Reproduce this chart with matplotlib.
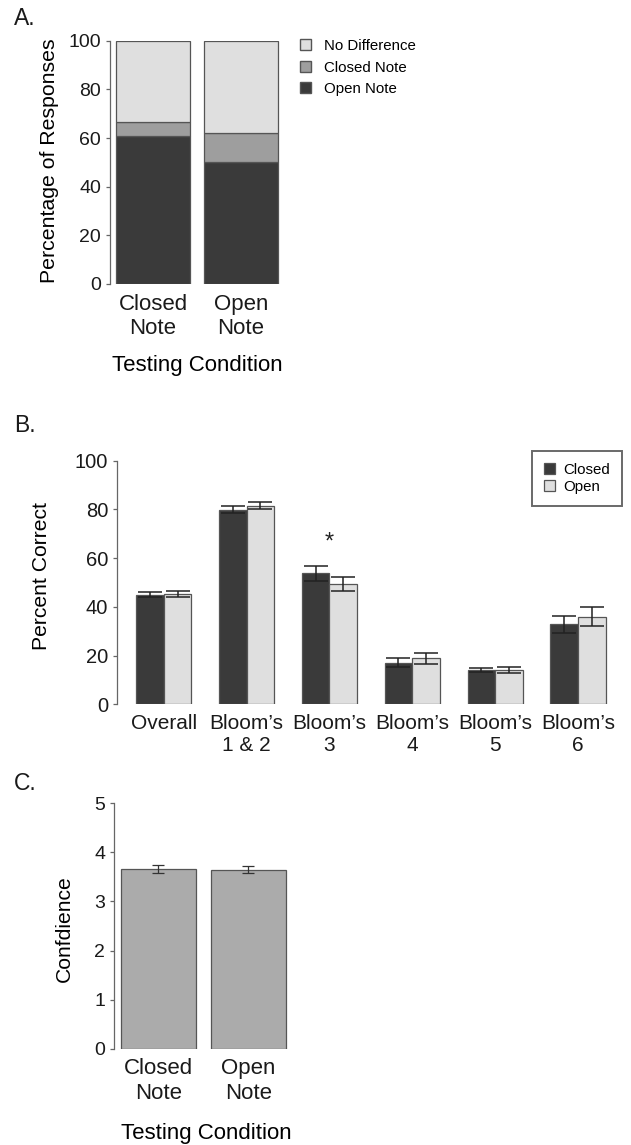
import matplotlib
matplotlib.use("Agg")
import matplotlib.pyplot as plt
from matplotlib.patches import Patch
import numpy as np

plt.rcParams['font.family'] = ['Liberation Sans', 'DejaVu Sans']

# panel A: preferred testing condition (stacked percentages)
conditions = ["Closed\nNote", "Open\nNote"]
pref_open = [60.8, 50.2]
pref_closed = [5.9, 12.0]
pref_nodiff = [33.3, 37.8]

# panel B: percent correct by Bloom's level
blooms = ["Overall", "Bloom’s\n1 & 2", "Bloom’s\n3", "Bloom’s\n4", "Bloom’s\n5", "Bloom’s\n6"]
closed_pc = [45.0, 79.9, 53.8, 17.1, 14.1, 32.8]
closed_se = [1.1, 1.5, 3.1, 1.9, 1.0, 3.6]
open_pc = [45.4, 81.5, 49.4, 18.9, 14.1, 36.0]
open_se = [1.2, 1.4, 2.9, 2.3, 1.2, 3.8]
sig_groups = [2]

# panel C: confidence
confidence = [3.667, 3.647]
confidence_se = [0.078, 0.075]

W, H = 631, 1145
fig = plt.figure(figsize=(W / 100, H / 100), dpi=100)


def px_axes(left, top, right, bottom):
    return fig.add_axes([left / W, 1 - bottom / H, (right - left) / W, (bottom - top) / H])


def style(ax, ysize=14, xsize=16):
    for s in ['top', 'right', 'bottom']:
        ax.spines[s].set_visible(False)
    ax.spines['left'].set_color('#666666')
    ax.spines['left'].set_linewidth(0.9)
    ax.tick_params(axis='y', length=3, width=0.9, color='#666666', pad=3.5,
                   labelsize=ysize, labelcolor='#1a1a1a')
    ax.tick_params(axis='x', length=0, pad=7, labelsize=xsize, labelcolor='#1a1a1a')


DARK, MID, LIGHT, EDGE = '#3a3a3a', '#9e9e9e', '#dfdfdf', '#555555'

# ---------- A ----------
axA = px_axes(110, 40.7, 284, 284)
xa = np.arange(len(conditions)) * 1.2 + 0.7
axA.bar(xa, pref_open, width=1, color=DARK, edgecolor=EDGE, linewidth=0.9)
axA.bar(xa, pref_closed, width=1, bottom=pref_open, color=MID, edgecolor=EDGE, linewidth=0.9)
axA.bar(xa, pref_nodiff, width=1, bottom=np.add(pref_open, pref_closed),
        color=LIGHT, edgecolor=EDGE, linewidth=0.9)
axA.set_xlim(0.112, 2.488)
axA.set_ylim(0, 100)
axA.set_yticks([0, 20, 40, 60, 80, 100])
axA.set_xticks(xa, conditions)
style(axA)
axA.set_ylabel("Percentage of Responses", fontsize=15.3, va='center')
axA.yaxis.set_label_coords((49 - 110) / 174, 0.5 + (162.3 - 160.8) / 243.3)
axA.set_xlabel("Testing Condition", fontsize=16, va='center')
axA.xaxis.set_label_coords(0.5, -(366 - 284) / 243.3)
handles = [Patch(facecolor=LIGHT, edgecolor=EDGE), Patch(facecolor=MID, edgecolor=EDGE),
           Patch(facecolor=DARK, edgecolor=EDGE)]
fig.legend(handles, ["No Difference", "Closed Note", "Open Note"], loc='center left',
           bbox_to_anchor=(300 / W, 1 - 67.7 / H), frameon=False, fontsize=10.8,
           handlelength=0.75, handleheight=0.75, handletextpad=0.85, labelspacing=0.5,
           borderpad=0, borderaxespad=0)

# ---------- B ----------
axB = px_axes(117.3, 460.7, 624.4, 704.3)
xc = np.arange(len(blooms)) * 3 + 1.5
xo = xc + 1
ekw = dict(ecolor='#222222', elinewidth=1.1, capsize=8.5, capthick=1.1)
axB.bar(xc, closed_pc, width=1, color=DARK, edgecolor=EDGE, linewidth=0.9,
        yerr=closed_se, error_kw=ekw, label="Closed")
axB.bar(xo, open_pc, width=1, color=LIGHT, edgecolor=EDGE, linewidth=0.9,
        yerr=open_se, error_kw=ekw, label="Open")
for g in sig_groups:
    top = max(closed_pc[g] + closed_se[g], open_pc[g] + open_se[g])
    axB.text(xc[g] + 0.5, top + 5, "*", ha='center', va='bottom', fontsize=17, color='#222222')
axB.set_xlim(0.32, 18.68)
axB.set_ylim(0, 100)
axB.set_yticks([0, 20, 40, 60, 80, 100])
axB.set_xticks(xc + 0.5, blooms)
style(axB, ysize=14.5, xsize=15)
axB.set_ylabel("Percent Correct", fontsize=15.2, va='center')
axB.yaxis.set_label_coords((41.7 - 117.3) / 507.1, 1 - (576.5 - 460.7) / 243.6)
leg = axB.legend(loc='upper right', bbox_to_anchor=(621.7 / W, 1 - 451 / H),
                 bbox_transform=fig.transFigure, fontsize=10.8, fancybox=False,
                 handlelength=0.75, handleheight=0.75, handletextpad=0.5,
                 labelspacing=0.2, borderpad=0.8, borderaxespad=0)
leg.get_frame().set_edgecolor('#444444')
leg.get_frame().set_linewidth(1.4)

# ---------- C ----------
axC = px_axes(114.3, 803.3, 292.3, 1048.7)
axC.bar(xa, confidence, width=1, color='#ababab', edgecolor=EDGE, linewidth=0.9,
        yerr=confidence_se, error_kw=dict(ecolor='#333333', elinewidth=0.9, capsize=4.5, capthick=0.9))
axC.set_xlim(0.112, 2.488)
axC.set_ylim(0, 5)
axC.set_yticks([0, 1, 2, 3, 4, 5])
axC.set_xticks(xa, conditions)
style(axC, ysize=14, xsize=16)
axC.set_ylabel("Confdience", fontsize=15.2, va='center')
axC.yaxis.set_label_coords((64 - 114.3) / 178, 1 - (928.3 - 803.3) / 245.4)
axC.set_xlabel("Testing Condition", fontsize=16, va='center')
axC.xaxis.set_label_coords(0.5 + (206.4 - 203.3) / 178, -(1133.3 - 1048.7) / 245.4)

# panel letters
for letter, y in [("A.", 18.3), ("B.", 426), ("C.", 784)]:
    fig.text(14 / W, 1 - y / H, letter, fontsize=16.5, va='center', ha='left', color='#1a1a1a')

fig.savefig("out.png", dpi=100)
